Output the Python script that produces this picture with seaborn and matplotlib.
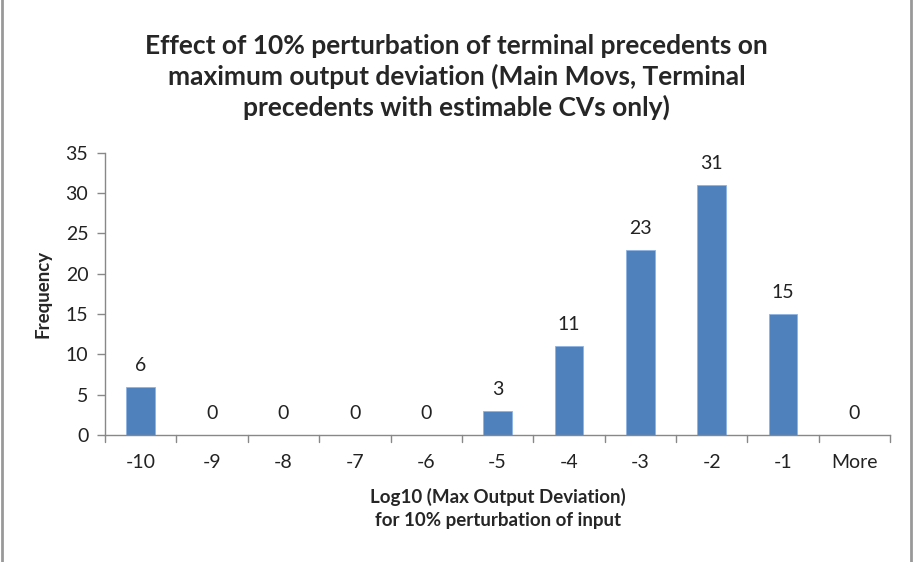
import numpy as np
import pandas as pd
import matplotlib
matplotlib.use("Agg")
import matplotlib.pyplot as plt
import seaborn as sns

bins = ["-10", "-9", "-8", "-7", "-6", "-5", "-4", "-3", "-2", "-1", "More"]
frequency = [6, 0, 0, 0, 0, 3, 11, 23, 31, 15, 0]
y_ticks = [0, 5, 10, 15, 20, 25, 30, 35]

sns.set_style("white")
plt.rcParams["font.family"] = ["Lato", "DejaVu Sans"]

df = pd.DataFrame({"bin": bins, "freq": frequency})

fig = plt.figure(figsize=(9.13, 5.62), dpi=100)
ax = fig.add_axes([0.115, 0.226, 0.86, 0.502])

sns.barplot(data=df, x="bin", y="freq", color="#4F81BD", saturation=1,
            width=0.4, edgecolor="#8EB4E3", linewidth=0.6, ax=ax)

for i, v in enumerate(frequency):
    ax.text(i, v + 1.6, str(v), ha="center", va="bottom", fontsize=14, color="#222222")

ax.set_ylim(0, 35)
ax.set_xlim(-0.5, len(bins) - 0.5)
ax.set_yticks(y_ticks)
ax.tick_params(axis="both", labelsize=14, colors="#222222")
ax.tick_params(axis="x", length=0, pad=14)
ax.tick_params(axis="y", length=6, width=1, color="#888888", direction="out", left=True, pad=6)

# tick marks between categories, as in spreadsheet charts
for x in np.arange(-0.5, len(bins), 1.0):
    ax.plot([x, x], [0, -0.9], color="#888888", lw=1, clip_on=False)

for s in ["top", "right"]:
    ax.spines[s].set_visible(False)
for s in ["left", "bottom"]:
    ax.spines[s].set_color("#888888")
    ax.spines[s].set_linewidth(1)

ax.set_ylabel("Frequency", fontsize=13.5, fontweight="bold", labelpad=10)
ax.set_xlabel("Log10 (Max Output Deviation)\nfor 10% perturbation of input",
              fontsize=13.5, fontweight="bold", labelpad=12, linespacing=1.45)

fig.suptitle("Effect of 10% perturbation of terminal precedents on\n"
             "maximum output deviation (Main Movs, Terminal\n"
             "precedents with estimable CVs only)",
             y=0.94, fontsize=19, fontweight="bold", linespacing=1.28)

fig.patches.append(plt.Rectangle((0.002, -0.01), 0.996, 1.02, transform=fig.transFigure,
                                 fill=False, edgecolor="#999999", lw=2))

fig.savefig("out.png", dpi=100)
